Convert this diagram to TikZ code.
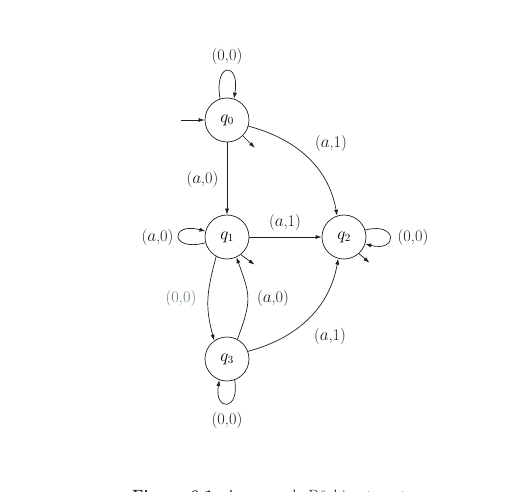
\documentclass[tikz,border=0pt]{standalone}
\usetikzlibrary{arrows.meta,calc}
\definecolor{edgecol}{RGB}{30,30,30}
\definecolor{tealgray}{RGB}{100,125,122}
\begin{document}
\begin{tikzpicture}[x=1pt,y=1pt,
  state/.style={circle,draw=edgecol,line width=0.7pt,minimum size=44pt,inner sep=0pt,font=\fontsize{16.3}{19}\selectfont},
  lbl/.style={font=\fontsize{16.3}{19}\selectfont,inner sep=0pt,text=edgecol},
  arr/.style={draw=edgecol,line width=0.7pt,-{Latex[length=6pt,width=4pt]}}]
\useasboundingbox (0,0) rectangle (523,491);
\clip (0,0) rectangle (523,491);
% states
\node[state] (q0) at (227,371) {$q_0$};
\node[state] (q1) at (227,254) {$q_1$};
\node[state] (q2) at (344,254) {$q_2$};
\node[state] (q3) at (227,132) {$q_3$};
% free ends
\coordinate (init) at (181,371);
\coordinate (o0) at ($(q0.-45)+(-45:17)$);
\coordinate (o1) at ($(q1.-52)+(-36:17)$);
\coordinate (o2) at ($(q2.-48)+(-41:14)$);
% initial arrow
\draw[arr] (init) -- (q0);
% outgoing short arrows
\draw[arr] (q0.-45) -- (o0);
\draw[arr] (q1.-52) -- (o1);
\draw[arr] (q2.-48) -- (o2);
% self loops
\draw[arr] (q0.108) .. controls +(100:38) and +(80:38) .. (q0.72);
\draw[arr] (q1.195) .. controls +(195:37) and +(165:37) .. (q1.165);
\draw[arr] (q2.18) .. controls +(15:34) and +(-15:34) .. (q2.-18);
\draw[arr] (q3.-70) .. controls +(-80:32) and +(-100:32) .. (q3.-110);
% transitions
\draw[arr] (q0) -- (q1);
\draw[arr] (q1) -- (q2);
\draw[arr] (q0.-16) to[out=-15,in=100] (q2.108);
\draw[arr] (q1.241) to[out=255,in=105,looseness=1.1] (q3.125);
\draw[arr] (q3.62) to[out=70,in=-70,looseness=1.3] (q1.-65);
\draw[arr] (q3.20) to[out=15,in=-100] (q2.-105);
% labels
\node[lbl] (l00a) at (227,434.5) {(0,0)};
\node[lbl] (la1a) at (331,347.7) {($a$,1)};
\node[lbl] (la0a) at (202.5,311.7) {($a$,0)};
\node[lbl] (la1b) at (285,268.5) {($a$,1)};
\node[lbl] (la0b) at (157.5,254) {($a$,0)};
\node[lbl] (l00b) at (413,254) {(0,0)};
\node[lbl,text=tealgray] (l00c) at (181,192.7) {(0,0)};
\node[lbl] (la0c) at (273,192.7) {($a$,0)};
\node[lbl] (la1c) at (330,155) {($a$,1)};
\node[lbl] (l00d) at (227,71) {(0,0)};
% caption (cut by the page edge, as in the reference)
\node[lbl,anchor=base west] (cap) at (132,-10.5) {\textbf{Figure 6.1:} An example Büchi automaton};
\end{tikzpicture}
\end{document}
